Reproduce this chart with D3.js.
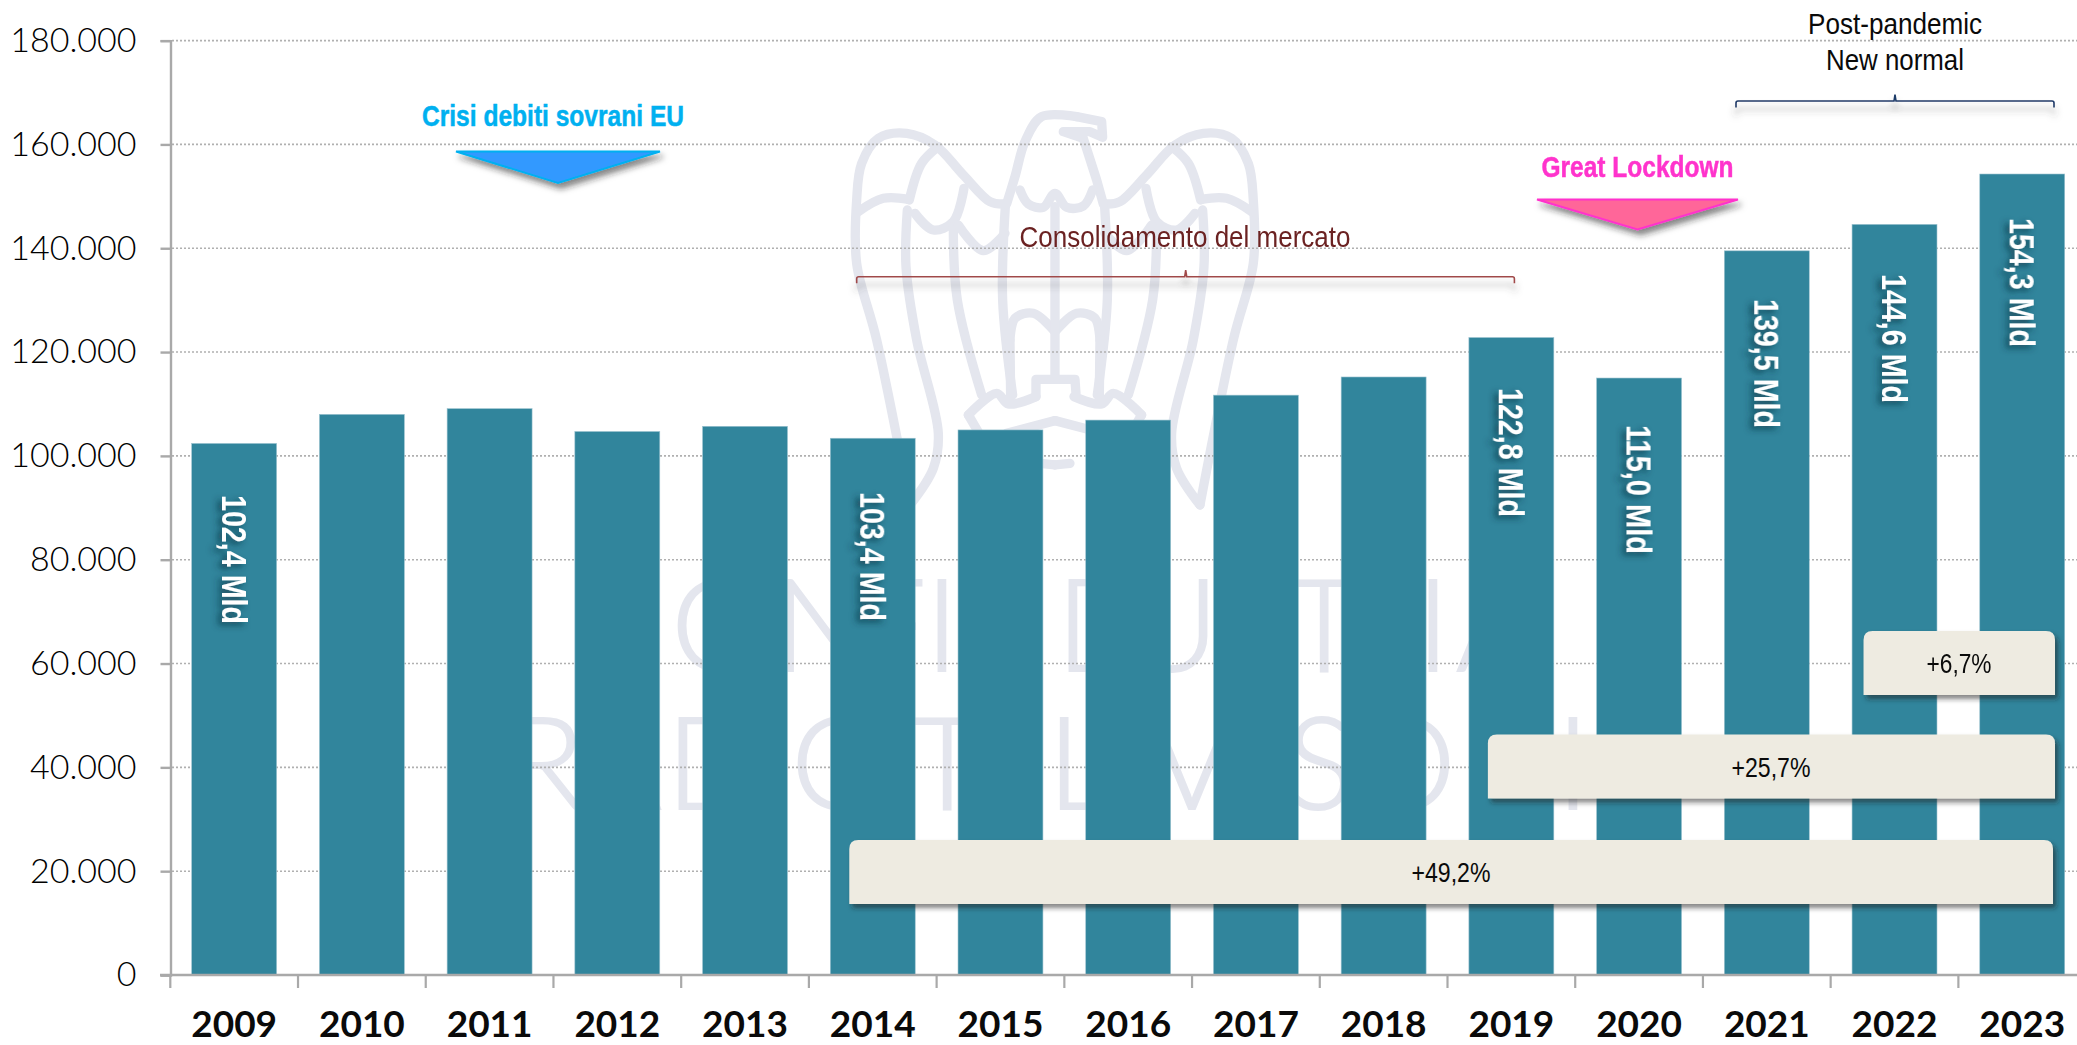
<!DOCTYPE html>
<html lang="it">
<head>
<meta charset="utf-8">
<title>Ricavi</title>
<script src="https://cdn.jsdelivr.net/npm/d3@7/dist/d3.min.js"></script>
<style>
html,body{margin:0;padding:0;background:#fff;overflow:hidden}
svg{display:block}
.narrow{font-family:"Liberation Sans",Arial,sans-serif}
.lato{font-family:Lato,"Open Sans",sans-serif}
</style>
</head>
<body>
<svg id="chart" width="2077" height="1045"></svg>
<script>
// ---- data ----
const years = [2009,2010,2011,2012,2013,2014,2015,2016,2017,2018,2019,2020,2021,2022,2023];
const values = [102400,108000,109100,104700,105700,103400,105000,106900,111700,115200,122800,115000,139500,144600,154300];
const yTicks = [0,20000,40000,60000,80000,100000,120000,140000,160000,180000];
const labelledYears = [2009,2014,2019,2020,2021,2022,2023];
const labelTexts = ["102,4 Mld","103,4 Mld","122,8 Mld","115,0 Mld","139,5 Mld","144,6 Mld","154,3 Mld"];
const growthStart = [2014,2019,2022];
const growthTexts = ["+49,2%","+25,7%","+6,7%"];

// ---- layout ----
const W = 2077, H = 1045;
const svg = d3.select("#chart");
const x = d3.scaleBand().domain(years).range([170.3,170.3+15*127.72]).paddingInner(0.335).paddingOuter(0.1675);
const y = d3.scaleLinear().domain([0,180000]).range([975,40.6]);
const fmt = d3.formatLocale({decimal:",",thousands:".",grouping:[3],currency:["€",""]}).format(",d");
const BAR = "#31859c", AXIS = "#a9a9a9", MARK = "#e4e6ee";

// ---- filters ----
const defs = svg.append("defs");
function shadow(id,dx,dy,b,c,o){
  const f = defs.append("filter").attr("id",id).attr("x","-20%").attr("y","-60%").attr("width","140%").attr("height","260%");
  f.append("feDropShadow").attr("dx",dx).attr("dy",dy).attr("stdDeviation",b).attr("flood-color",c).attr("flood-opacity",o);
}
shadow("sBox",3,4,2.5,"#222",0.55);
shadow("sTri",3,5,3,"#222",0.55);
defs.append("filter").attr("id","sBr").attr("x","-5%").attr("y","-200%").attr("width","110%").attr("height","600%")
  .append("feDropShadow").attr("dx",0).attr("dy",8).attr("stdDeviation",3.5).attr("flood-color","#444").attr("flood-opacity",0.55);
defs.append("filter").attr("id","sTxt").attr("x","-60%").attr("y","-20%").attr("width","220%").attr("height","140%")
  .append("feDropShadow").attr("dx",-4).attr("dy",3).attr("stdDeviation",3).attr("flood-color","#0c3040").attr("flood-opacity",0.75);

// ---- watermark ----
const wm = svg.append("g").attr("class","watermark");
const eagle = wm.append("g").attr("transform","translate(820,100) scale(0.3333)")
  .attr("fill","none").attr("stroke",MARK).attr("stroke-width",28).attr("stroke-linejoin","round").attr("stroke-linecap","round");
const line = d3.line().curve(d3.curveCatmullRom.alpha(0.5));
const wingPaths = [
  [[552,312],[510,305],[430,225],[345,135],[260,100],[175,115],[125,190],[110,300],[110,490],[170,720],[270,1215]],
  [[115,335],[190,295],[265,298]],
  [[268,300],[305,190],[355,140]],
  [[262,330],[258,500],[290,720],[355,1000],[340,1105],[270,1215]],
  [[285,340],[340,390],[400,365],[432,265]],
  [[400,380],[412,600],[485,885]],
  [[415,375],[490,452],[555,400]],
  [[556,320],[548,600],[578,885]],
  [[570,720],[585,655],[640,640],[705,695]],
  [[570,720],[572,890]],
  [[445,945],[530,880],[565,912],[648,890]],
  [[445,945],[480,1005]],
  [[560,1000],[705,962]],
  [[660,1090],[705,1095]]
];
[1,-1].forEach(s=>{
  const g = eagle.append("g").attr("transform",s<0?"translate(1410,0) scale(-1,1)":null);
  g.selectAll("path").data(wingPaths).join("path").attr("d",d=>line(d));
});
eagle.append("path").attr("d",line([[560,312],[585,230],[615,125],[665,50],[770,50]]));
eagle.append("path").attr("d","M770 50 L845 65 L848 112 L810 95 L730 95 L790 115 L830 240 L850 312");
eagle.append("path").attr("d",line([[600,270],[625,312],[670,322],[705,280],[740,322],[790,318],[818,270]]));
eagle.append("path").attr("d","M705 320 L705 835 M648 890 L648 838 L765 838 L768 880");

const row1 = "CONFINDUSTRIA";
const row1x = [618,722,822,890,942,1000,1105,1172,1258,1324,1385,1433,1498];
const row2 = "RADIOTELEVISIONI";
const row2x = [545,620,715,765,842,947,1000,1080,1130,1192,1255,1320,1385,1405,1510,1573];
function wmRow(text,xs,base){
  wm.append("text").attr("class","lato")
    .attr("x",xs.join(" ")).attr("y",base).attr("text-anchor","middle")
    .attr("font-size",128).attr("font-weight",300).attr("fill",MARK)
    .attr("stroke",MARK).attr("stroke-width",2).text(text);
}
wmRow(row1,row1x,671);
wmRow(row2,row2x,809);

// ---- grid ----
svg.append("g").selectAll("line").data(yTicks.filter(d=>d>0)).join("line")
  .attr("x1",172).attr("x2",W).attr("y1",d=>y(d)).attr("y2",d=>y(d))
  .attr("stroke","#b0b0b0").attr("stroke-width",1.6).attr("stroke-dasharray","2 2");

// ---- bars ----
svg.append("g").selectAll("rect").data(years).join("rect")
  .attr("x",d=>x(d)).attr("width",x.bandwidth())
  .attr("y",(d,i)=>y(values[i])).attr("height",(d,i)=>y(0)-y(values[i]))
  .attr("fill",BAR).attr("stroke","#9cc3d0").attr("stroke-width",0.6);

// ---- axes ----
const gy = svg.append("g").attr("class","lato").attr("transform","translate(170.5,0)")
  .call(d3.axisLeft(y).tickValues(yTicks).tickFormat(d=>d===0?"0":fmt(d)).tickSize(10).tickPadding(24));
gy.select(".domain").attr("stroke",AXIS).attr("stroke-width",2.4);
gy.selectAll(".tick line").attr("stroke",AXIS).attr("stroke-width",2.4);
gy.selectAll(".tick text").attr("font-size",34).attr("font-weight",300).attr("fill","#000").attr("font-family","Lato");

const gx = svg.append("g").attr("class","lato").attr("transform","translate(0,975)")
  .call(d3.axisBottom(x).tickSize(0).tickPadding(36));
gx.select(".domain").remove();
gx.selectAll(".tick text").attr("font-size",37).attr("font-weight",700).attr("fill","#0a0a0a").attr("font-family","Lato");
svg.append("line").attr("x1",160).attr("x2",W).attr("y1",975).attr("y2",975).attr("stroke",AXIS).attr("stroke-width",2.4);
svg.append("g").selectAll("line").data(d3.range(years.length)).join("line")
  .attr("x1",i=>x(years[i])-x.step()*0.1675).attr("x2",i=>x(years[i])-x.step()*0.1675)
  .attr("y1",975).attr("y2",988).attr("stroke",AXIS).attr("stroke-width",2.2);

// ---- rotated bar labels ----
const labelTop = {2009:495,2014:492,2019:388,2020:425,2021:299,2022:274,2023:218};
const lg = svg.append("g").attr("filter","url(#sTxt)");
lg.selectAll("text").data(labelledYears).join("text").attr("class","narrow")
  .attr("transform",d=>`translate(${x(d)+x.bandwidth()/2-12.5},${labelTop[d]}) rotate(90)`)
  .attr("font-size",35).attr("font-weight",700).attr("fill","#fff")
  .attr("textLength",129).attr("lengthAdjust","spacingAndGlyphs")
  .text((d,i)=>labelTexts[i]);

// ---- growth boxes ----
const boxGeo = [
  {l:19,r:2053,t:840,h:64,tx:1451,len:79},
  {l:19,r:2055,t:734.5,h:64,tx:1771,len:79},
  {l:11.5,r:2055,t:631,h:64,tx:1959,len:65}
];
const roundTop = (x0,x1,t,b,r)=>`M${x0} ${b}L${x0} ${t+r}Q${x0} ${t} ${x0+r} ${t}L${x1-r} ${t}Q${x1} ${t} ${x1} ${t+r}L${x1} ${b}Z`;
const bg = svg.append("g");
growthStart.forEach((yr,i)=>{
  const g = boxGeo[i], x0 = x(yr)+g.l;
  bg.append("path").attr("d",roundTop(x0,g.r,g.t,g.t+g.h,9)).attr("fill","#eeebe1").attr("filter","url(#sBox)");
  bg.append("text").attr("class","narrow").attr("x",g.tx).attr("y",g.t+g.h/2+10)
    .attr("text-anchor","middle").attr("font-size",27).attr("fill","#0a0a0a")
    .attr("textLength",g.len).attr("lengthAdjust","spacingAndGlyphs").text(growthTexts[i]);
});

// ---- event markers ----
function triangle(x0,x1,ax,t,b,fill,stroke){
  svg.append("path").attr("d",`M${x0} ${t}L${x1} ${t}L${ax} ${b}Z`)
    .attr("fill",fill).attr("stroke",stroke).attr("stroke-width",2).attr("stroke-linejoin","miter").attr("filter","url(#sTri)");
}
function label(t,cx,base,size,color,weight,len,sw){
  svg.append("text").attr("class","narrow").attr("x",cx).attr("y",base).attr("text-anchor","middle")
    .attr("font-size",size).attr("font-weight",weight).attr("fill",color)
    .attr("stroke",sw?color:null).attr("stroke-width",sw||null)
    .attr("textLength",len).attr("lengthAdjust","spacingAndGlyphs").text(t);
}
triangle(456,660,558,151.5,183,"#3399ff","#00b0f0");
label("Crisi debiti sovrani EU",553,126,30,"#00b0f0",700,262,0.5);
triangle(1537,1738,1637.5,199.5,229.5,"#ff6699","#ff33cc");
label("Great Lockdown",1637.5,177,30,"#ff33cc",700,192,0.5);

// ---- brackets ----
function bracket(x0,x1,mid,yy,color){
  const d = `M${x0} ${yy+6.5}L${x0} ${yy+2}Q${x0} ${yy} ${x0+2} ${yy}L${mid-1} ${yy}L${mid} ${yy-6.5}L${mid+1} ${yy}L${x1-2} ${yy}Q${x1} ${yy} ${x1} ${yy+2}L${x1} ${yy+6.5}`;
  svg.append("path").attr("d",d).attr("fill","none").attr("stroke",color).attr("stroke-width",1.6).attr("filter","url(#sBr)");
}
bracket(856.7,1514.4,1185.7,276.7,"#a04a4a");
label("Consolidamento del mercato",1185,246.5,29,"#6b2222",400,331);
bracket(1736,2054,1895,101,"#1f3a68");
label("Post-pandemic",1895,34,29,"#0a0a0a",400,174);
label("New normal",1895,69.5,29,"#0a0a0a",400,138);
</script>
</body>
</html>
